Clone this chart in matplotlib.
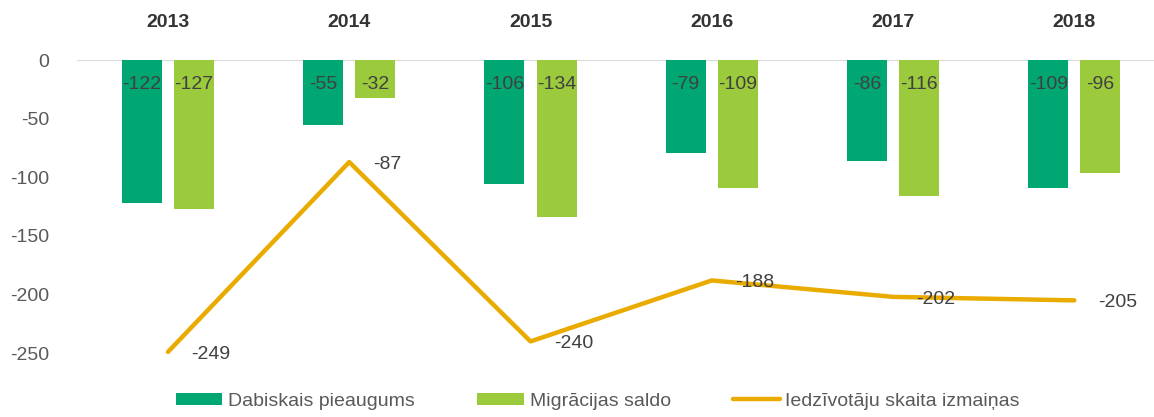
import matplotlib as mpl
import matplotlib.pyplot as plt
import numpy as np

YEARS = ["2013", "2014", "2015", "2016", "2017", "2018"]
NATURAL = [-122, -55, -106, -79, -86, -109]
MIGRATION = [-127, -32, -134, -109, -116, -96]
TOTAL = [-249, -87, -240, -188, -202, -205]
LABELS = ["Dabiskais pieaugums", "Migrācijas saldo", "Iedzīvotāju skaita izmaiņas"]
YTICKS = [0, -50, -100, -150, -200, -250]

DARK = "#00A772"
LIGHT = "#9BCA3C"
GOLD = "#E9AB00"

mpl.rcParams.update({
    "font.family": ["Liberation Sans Narrow", "Liberation Sans", "DejaVu Sans"],
    "font.size": 14,
    "figure.facecolor": "white",
    "axes.facecolor": "white",
})

fig = plt.figure(figsize=(11.54, 4.17), dpi=100)
ax = fig.add_axes([0.067, 0.111, 0.9425, 0.745])

x = np.arange(len(YEARS))
w = 0.22
off = 0.144
b1 = ax.bar(x - off, NATURAL, w, color=DARK, label=LABELS[0], zorder=2)
b2 = ax.bar(x + off, MIGRATION, w, color=LIGHT, label=LABELS[1], zorder=2)
ln, = ax.plot(x, TOTAL, color=GOLD, linewidth=3.2, solid_capstyle="round",
              label=LABELS[2], zorder=3)

for bars, vals in ((b1, NATURAL), (b2, MIGRATION)):
    for bar, v in zip(bars, vals):
        ax.text(bar.get_x() + bar.get_width() / 2, -21, f"-{abs(v)}",
                ha="center", va="center", color="#404040", fontsize=14, zorder=4)

for xi, v in zip(x, TOTAL):
    ax.text(xi + 0.13, v - 2, f"-{abs(v)}", ha="left", va="center",
            color="#404040", fontsize=14, zorder=4)

ax.axhline(0, color="#D9D9D9", linewidth=1.5, zorder=1)
ax.set_xlim(-0.5, 5.5)
ax.set_ylim(-265, 0)
ax.set_yticks(YTICKS)
ax.set_yticklabels(["0" if t == 0 else f"-{abs(t)}" for t in YTICKS], color="#595959")
ax.set_xticks(x)
ax.set_xticklabels(YEARS, color="#333333", fontweight="semibold")
ax.xaxis.tick_top()
ax.tick_params(axis="x", length=0, pad=21)
ax.tick_params(axis="y", length=0, pad=20)
for s in ax.spines.values():
    s.set_visible(False)

fig.legend(handles=[b1, b2, ln], loc="lower center", bbox_to_anchor=(0.518, -0.025),
           ncol=3, frameon=False, handlelength=2.4, handleheight=0.6,
           columnspacing=3.2, handletextpad=0.3, fontsize=14, labelcolor="#595959")

fig.savefig("out.png", dpi=100, facecolor="white")
